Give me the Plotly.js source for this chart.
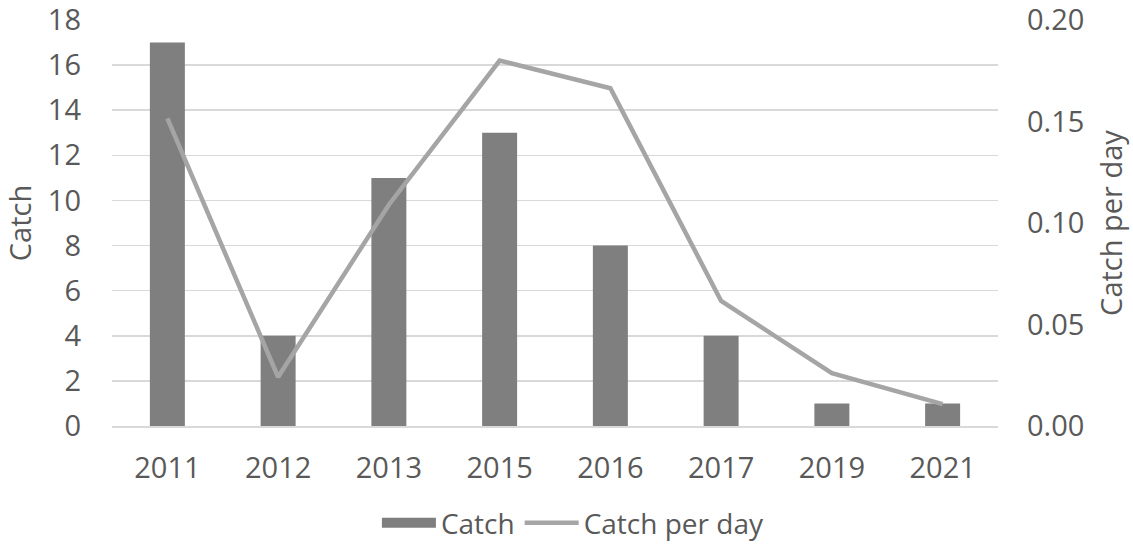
<!DOCTYPE html>
<html>
<head>
<meta charset="utf-8">
<script src="https://cdn.plot.ly/plotly-3.0.1.min.js"></script>
<style>html,body{margin:0;padding:0;background:#fff;}#chart{width:1133px;height:548px;}</style>
</head>
<body>
<div id="chart"></div>
<script>
const years = ["2011", "2012", "2013", "2015", "2016", "2017", "2019", "2021"];
const catchValues = [17, 4, 11, 13, 8, 4, 1, 1];
const catchPerDay = [0.1515, 0.0241, 0.109, 0.180, 0.1664, 0.0616, 0.026, 0.0108];
const leftTicks = [0, 2, 4, 6, 8, 10, 12, 14, 16, 18];
const rightTicks = [0, 0.05, 0.10, 0.15, 0.20];

const txt = '#595959';
const fnt = {family: 'Open Sans, sans-serif', size: 29, color: txt};
const legFnt = {family: 'Open Sans, sans-serif', size: 28, color: txt};

const traces = [
  {type: 'bar', x: years, y: catchValues, name: 'Catch', marker: {color: '#7f7f7f'},
   showlegend: false, hoverinfo: 'skip'},
  {type: 'scatter', mode: 'lines', x: [null], y: [null], name: 'Catch',
   line: {color: '#7f7f7f', width: 13}, showlegend: true, hoverinfo: 'skip'},
  {type: 'scatter', mode: 'lines', x: years, y: catchPerDay, name: 'Catch per day', yaxis: 'y2',
   line: {color: '#a5a5a5', width: 4.5}, hoverinfo: 'skip'}
];

const layout = {
  width: 1133, height: 548,
  margin: {l: 112, r: 135, t: 20, b: 122, autoexpand: false},
  paper_bgcolor: '#fff', plot_bgcolor: '#fff',
  font: fnt,
  bargap: 0.684,
  showlegend: true,
  legend: {orientation: 'h', x: 0.299, xanchor: 'left', yref: 'container', y: -0.012, yanchor: 'bottom',
           font: legFnt, itemwidth: 54, traceorder: 'normal'},
  xaxis: {type: 'category', categoryorder: 'array', categoryarray: years,
          showline: true, linecolor: '#d9d9d9', linewidth: 1.5, showgrid: false,
          ticks: '', tickfont: fnt, ticklabelstandoff: 16, fixedrange: true, automargin: false,
          ticklabeloverflow: 'allow'},
  yaxis: {range: [0, 18], tickvals: leftTicks, ticktext: leftTicks.map(String),
          showgrid: true, gridcolor: '#d9d9d9', gridwidth: 1.5, zeroline: false,
          ticks: '', tickfont: fnt, ticklabelstandoff: 30, automargin: false, ticklabeloverflow: 'allow',
          title: {text: 'Catch', font: fnt, standoff: 12}, fixedrange: true},
  yaxis2: {range: [0, 0.2], overlaying: 'y', side: 'right', tickvals: rightTicks,
           ticktext: rightTicks.map(v => v.toFixed(2)), showgrid: false, zeroline: false,
           ticks: '', tickfont: fnt, ticklabelstandoff: 28, automargin: false, ticklabeloverflow: 'allow',
           title: {text: 'Catch per day', font: fnt, standoff: 18}, fixedrange: true}
};

Plotly.newPlot('chart', traces, layout, {displayModeBar: false, staticPlot: true});
</script>
</body>
</html>
